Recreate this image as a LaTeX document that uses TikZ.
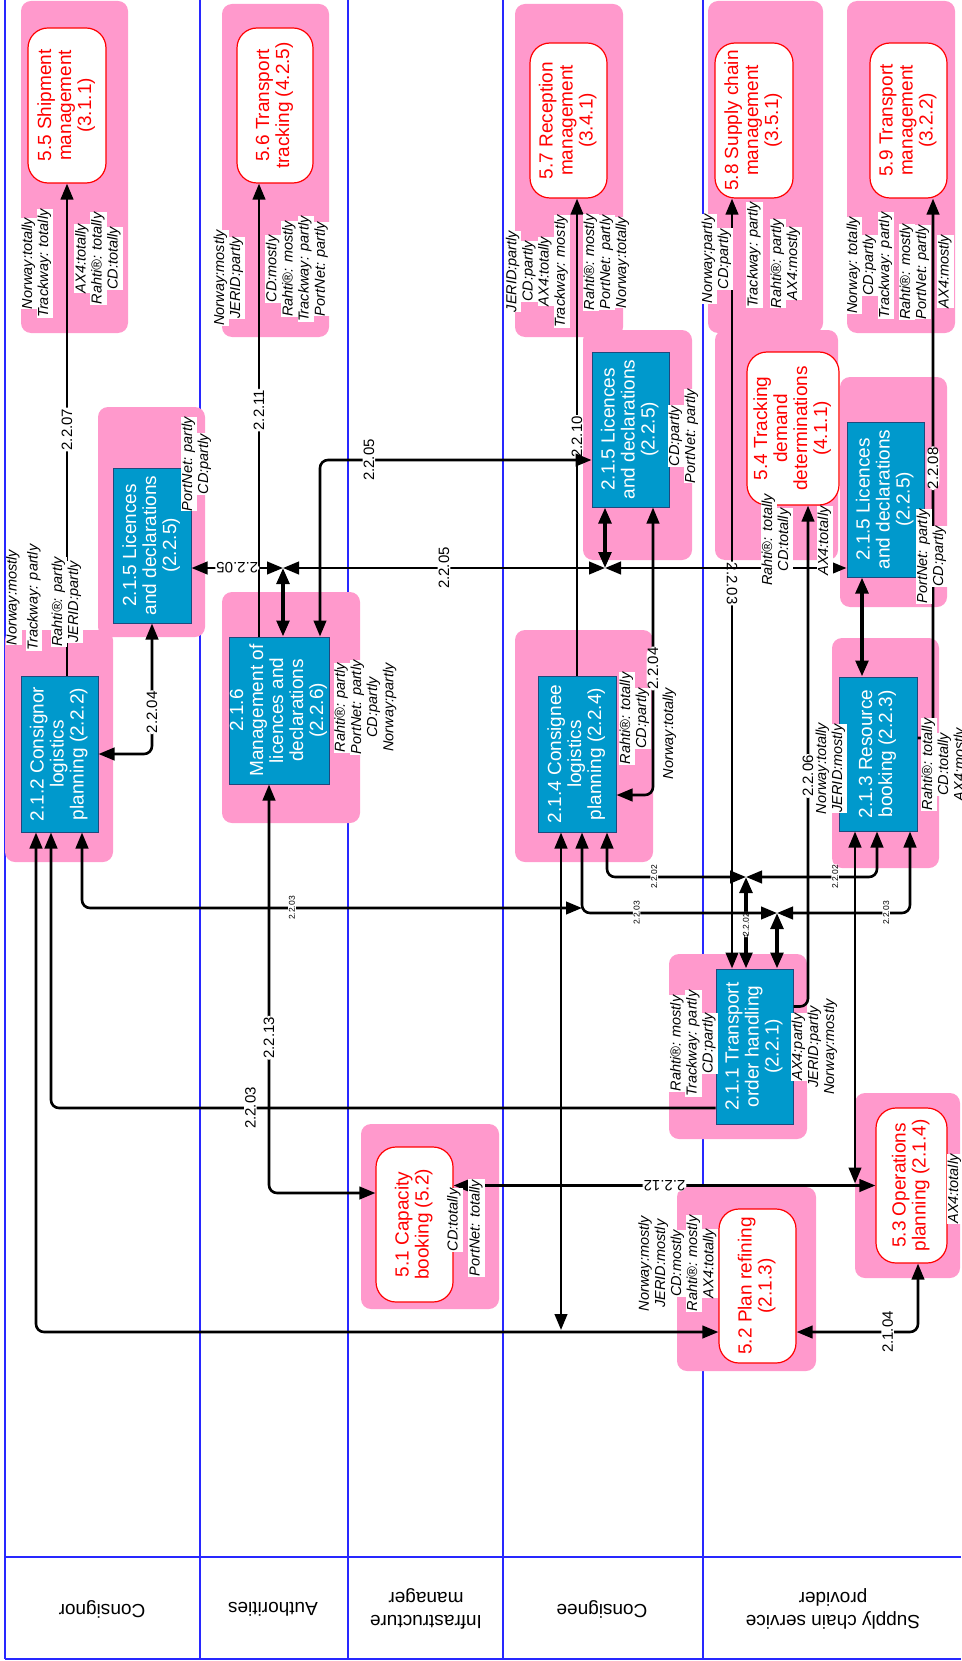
\documentclass[tikz,border=0pt]{standalone}
\usepackage{fontspec}
\setmainfont{Liberation Sans}
\usepackage{graphicx}
\usetikzlibrary{arrows.meta,calc}
\definecolor{groupbg}{RGB}{255,153,204}
\definecolor{procfill}{RGB}{0,153,204}
\definecolor{procline}{RGB}{31,73,125}
\definecolor{laneline}{RGB}{40,40,255}
\newcommand{\procfont}{\fontsize{19}{20}\selectfont}
\newcommand{\annfont}{\fontsize{14.5}{15.5}\selectfont\itshape}
\newcommand{\lblfont}{\fontsize{15}{15}\selectfont}
\newcommand{\minilblfont}{\fontsize{8.5}{9}\selectfont}
\newcommand{\lanefont}{\fontsize{19}{23}\selectfont}
\newcommand{\vtext}[1]{\rotatebox{90}{\begin{tabular}{@{}c@{}}#1\end{tabular}}}
\newcommand{\wbox}[1]{\colorbox{white}{\strut #1}}
\setlength{\fboxsep}{0.3pt}

\begin{document}
\begin{tikzpicture}[x=1pt, y=-1pt,
    >={Triangle[length=16pt,width=12.5pt]},
    lane/.style={draw=laneline, line width=1.3pt},
    group/.style={fill=groupbg, rounded corners=10pt},
    proc/.style={rectangle, draw=procline, fill=procfill, line width=1pt, text=white, font=\procfont, inner sep=0pt},
    sys/.style={rectangle, draw=red, fill=white, rounded corners=20pt, line width=1.2pt, text=red, font=\procfont, inner sep=0pt},
    note/.style={inner sep=0pt, font=\annfont},
    lanelabel/.style={align=center, font=\lanefont, rotate=180},
    conn/.style={draw, line width=2.6pt, rounded corners=8pt, ->},
    dconn/.style={draw, line width=2.6pt, rounded corners=8pt, <->},
    dconnthick/.style={dconn, line width=3.8pt},
    bconn/.style={draw, line width=2.6pt, rounded corners=8pt, <-},
    vlbl/.style={fill=white, inner sep=1pt, font=\lblfont, rotate=90},
    ulbl/.style={fill=white, inner sep=1pt, font=\lblfont, rotate=180},
    dlbl/.style={fill=white, inner sep=1pt, font=\lblfont, rotate=-90},
    tlbl/.style={fill=white, inner sep=0.8pt, font=\minilblfont, rotate=90}
]
    \useasboundingbox (0,0) rectangle (961,1661);

    % Swimlanes
    \foreach \x in {5,200,348,503,703}
        \draw[lane] (\x,0) -- (\x,1659);
    \draw[lane] (5,1557) -- (961,1557);
    \draw[lane, line width=2.5pt] (5,1659) -- (961,1659);

    % Pink groups
    \fill[group] (21,1) rectangle (128,333);
    \fill[group] (222,4) rectangle (329,337);
    \fill[group] (515,4) rectangle (623,337);
    \fill[group] (708,1) rectangle (823,333);
    \fill[group] (847,1) rectangle (955,333);
    \fill[group] (98,407) rectangle (205,637);
    \fill[group] (5,630) rectangle (113,862);
    \fill[group] (222,592) rectangle (360,823);
    \fill[group] (583,330) rectangle (692,560);
    \fill[group] (515,630) rectangle (653,862);
    \fill[group] (715,330) rectangle (838,560);
    \fill[group] (840,377) rectangle (947,607);
    \fill[group] (832,638) rectangle (939,868);
    \fill[group] (669,954) rectangle (807,1139);
    \fill[group] (855,1093) rectangle (960,1278);
    \fill[group] (677,1187) rectangle (816,1371);
    \fill[group] (361,1124) rectangle (499,1309);

    % Processes
    \node[proc, minimum width=78pt, minimum height=155pt] (b215a) at (152,545.5) {\vtext{2.1.5 Licences\\and declarations\\(2.2.5)}};
    \node[proc, minimum width=77pt, minimum height=156pt] (b212) at (59.5,754) {\vtext{2.1.2 Consignor\\logistics\\planning (2.2.2)}};
    \node[proc, minimum width=100pt, minimum height=147pt] (b216) at (279,710.5) {\vtext{2.1.6\\Management of\\licences and\\declarations\\(2.2.6)}};
    \node[proc, minimum width=77pt, minimum height=155pt] (b215b) at (630.5,429.5) {\vtext{2.1.5 Licences\\and declarations\\(2.2.5)}};
    \node[proc, minimum width=78pt, minimum height=156pt] (b214) at (577,754) {\vtext{2.1.4 Consignee\\logistics\\planning (2.2.4)}};
    \node[proc, minimum width=77pt, minimum height=155pt] (b215c) at (885.5,499.5) {\vtext{2.1.5 Licences\\and declarations\\(2.2.5)}};
    \node[proc, minimum width=78pt, minimum height=154pt] (b213) at (878,754) {\vtext{2.1.3 Resource\\booking (2.2.3)}};
    \node[proc, minimum width=77pt, minimum height=155pt] (b211) at (754.5,1046.5) {\vtext{2.1.1 Transport\\order handling\\(2.2.1)}};

    % Systems
    \node[sys, minimum width=78pt, minimum height=155pt] (r55) at (67,105.5) {\vtext{5.5 Shipment\\management\\(3.1.1)}};
    \node[sys, minimum width=76pt, minimum height=155pt] (r56) at (275,105.5) {\vtext{5.6 Transport\\tracking (4.2.5)}};
    \node[sys, minimum width=77pt, minimum height=155pt] (r57) at (568.5,120.5) {\vtext{5.7 Reception\\management\\(3.4.1)}};
    \node[sys, minimum width=78pt, minimum height=155pt] (r58) at (754,120.5) {\vtext{5.8 Supply chain\\management\\(3.5.1)}};
    \node[sys, minimum width=77pt, minimum height=155pt] (r59) at (908.5,120.5) {\vtext{5.9 Transport\\management\\(3.2.2)}};
    \node[sys, minimum width=92pt, minimum height=153pt] (r54) at (793,428.5) {\vtext{5.4 Tracking\\demand\\determinations\\(4.1.1)}};
    \node[sys, minimum width=71pt, minimum height=155pt] (r53) at (911.5,1185.5) {\vtext{5.3 Operations\\planning (2.1.4)}};
    \node[sys, minimum width=77pt, minimum height=154pt] (r52) at (757.5,1286) {\vtext{5.2 Plan refining\\(2.1.3)}};
    \node[sys, minimum width=77pt, minimum height=155pt] (r51) at (414.5,1224.5) {\vtext{5.1 Capacity\\booking (5.2)}};

    % Junctions
    \coordinate (j205a) at (283,568);
    \coordinate (j205b) at (605,568);
    \coordinate (j202) at (746,877);
    \coordinate (j203) at (777,913);

    % Flows to the systems
    \draw[conn] (b212.north -| r55.south) -- node[vlbl]{2.2.07} (r55.south);
    \draw[conn] ($(b216.north)+(-20,0)$) -- node[vlbl]{2.2.11} ($(r56.south)+(-16,0)$);
    \draw[conn] (b214.north) -- node[vlbl]{2.2.10} (b214.north |- r57.south);
    \draw[dconn] ($(b211.north)+(-22.5,0)$) -- node[dlbl]{2.2.03} ($(r58.south)+(-22,0)$);
    \draw[conn] ($(b213.east)+(0,-16)$) -| node[vlbl, pos=0.75]{2.2.08} ($(r59.south)+(24.5,0)$);
    \draw[conn] ($(b211.east)+(0,-40)$) -| node[vlbl, pos=0.73]{2.2.06} ($(r54.south)+(15,0)$);

    % Licences and declarations
    \draw[dconn] (b212.east) -| node[vlbl, pos=0.66]{2.2.04} (b215a.south);
    \draw[dconn] (j205a) -- node[ulbl]{2.2.05} (j205a -| b215a.east);
    \draw[dconn] (j205a) -- node[vlbl]{2.2.05} (j205b);
    \draw[dconn] (j205b) -- (j205b -| b215c.west);
    \draw[dconnthick] (j205a) -- (j205a |- b216.north);
    \draw[dconnthick] (j205b) -- (j205b |- b215b.south);
    \draw[dconn] ($(b216.north)+(41,0)$) |- node[vlbl, pos=0.59]{2.2.05} ($(b215b.west)+(0,30.5)$);
    \draw[dconn] ($(b215b.south)+(22.5,0)$) |- node[vlbl, pos=0.28]{2.2.04} ($(b214.east)+(0,41)$);
    \draw[dconnthick] ($(b215c.south)+(-23.5,0)$) -- ($(b213.north)+(-16,0)$);
    \draw[dconn] ($(b216.south)+(-10,0)$) |- node[vlbl, pos=0.31]{2.2.13} ($(r51.west)+(0,-31.5)$);

    % Transport order handling
    \draw[dconn] ($(b214.south)+(30,0)$) |- node[tlbl, pos=0.67]{2.2.02} (j202);
    \draw[dconn] (j202) -| node[tlbl, pos=0.34]{2.2.02} ($(b213.south)+(-1,0)$);
    \draw[dconnthick] (j202) -- node[tlbl, pos=0.52]{2.2.02} (j202 |- b211.north);
    \draw[dconn] ($(b214.south)+(5,0)$) |- node[tlbl, pos=0.64]{2.2.03} (j203);
    \draw[dconn] (j203) -| node[tlbl, pos=0.41]{2.2.03} ($(b213.south)+(32,0)$);
    \draw[dconnthick] (j203) -- (j203 |- b211.north);
    \draw[dconn] ($(b212.south)+(22.5,0)$) |- node[tlbl, pos=0.71]{2.2.03} ($(b214.south |- j203)+(5,-5)$);
    \draw[bconn] ($(b212.south)+(-8.5,0)$) |- node[vlbl, pos=0.65]{2.2.03} ($(b211.west)+(0,61.5)$);

    % Planning
    \draw[dconn] ($(b212.south)+(-23.5,0)$) |- ($(r52.west)+(0,46)$);
    \draw[dconn] ($(b214.south)+(-16,0)$) -- ($(b214.south |- r52.west)+(-16,44)$);
    \draw[dconn] (r53.west -| r51.east) -- node[ulbl]{2.2.12} (r53.west);
    \draw[dconn] ($(b213.south)+(-23,0)$) -- ($(b213.south |- r53.west)+(-23,-2)$);
    \draw[dconn] ($(r52.east)+(0,46)$) -| node[vlbl, pos=0.375]{2.1.04} ($(r53.south)+(6.5,0)$);

    % Coverage notes
    \node[note] (n55l) at (37,263.5) {\vtext{\wbox{Norway:totally}\\\wbox{Trackway: totally}}};
    \node[note] (n55r) at (98.5,258.5) {\vtext{\wbox{AX4:totally}\\\wbox{Rahti®: totally}\\\wbox{CD:totally}}};
    \node[note] (n56l) at (229,278) {\vtext{\wbox{Norway:mostly}\\\wbox{JERID:partly}}};
    \node[note] (n56r) at (297.5,269) {\vtext{\wbox{CD:mostly}\\\wbox{Rahti®: mostly}\\\wbox{Trackway: partly}\\\wbox{PortNet: partly}}};
    \node[note] (n57l) at (537.5,271.5) {\vtext{\wbox{JERID:partly}\\\wbox{CD:partly}\\\wbox{AX4:totally}\\\wbox{Trackway: mostly}}};
    \node[note] (n57r) at (607,262.5) {\vtext{\wbox{Rahti®: mostly}\\\wbox{PortNet: partly}\\\wbox{Norway:totally}}};
    \node[note] (n58l) at (717,259) {\vtext{\wbox{Norway:partly}\\\wbox{CD:partly}}};
    \node[note] (n58m) at (754.5,255) {\vtext{\wbox{Trackway: partly}}};
    \node[note] (n58r) at (786,263.5) {\vtext{\wbox{Rahti®: partly}\\\wbox{AX4:mostly}}};
    \node[note] (n59l) at (870,265.5) {\vtext{\wbox{Norway: totally}\\\wbox{CD:partly}\\\wbox{Trackway: partly}}};
    \node[note] (n59m) at (915,272) {\vtext{\wbox{Rahti®: mostly}\\\wbox{PortNet: partly}}};
    \node[note] (n59r) at (945.5,271.5) {\vtext{\wbox{AX4:mostly}}};
    \node[note] (n215a) at (197,464) {\vtext{\wbox{PortNet: partly}\\\wbox{CD:partly}}};
    \node[note] (n212l) at (24,597.5) {\vtext{\wbox{Norway:mostly}\\[5pt]\wbox{Trackway: partly}}};
    \node[note] (n212r) at (67,602) {\vtext{\wbox{Rahti®: partly}\\\wbox{JERID:partly}}};
    \node[note] (n216) at (366,707.5) {\vtext{\wbox{Rahti®: partly}\\\wbox{PortNet: partly}\\\wbox{CD:partly}\\\wbox{Norway:partly}}};
    \node[note] (n215b) at (684,436) {\vtext{\wbox{CD:partly}\\\wbox{PortNet: partly}}};
    \node[note] (n214) at (635,718.5) {\vtext{\wbox{Rahti®: totally}\\\wbox{CD:partly}}};
    \node[note] (n214b) at (670,733.5) {\vtext{\wbox{Norway:totally}}};
    \node[note] (n54) at (777,540) {\vtext{\wbox{Rahti®: totally}\\\wbox{CD:totally}}};
    \node[note] (n54b) at (825,541) {\vtext{\wbox{AX4:totally}}};
    \node[note] (n215c) at (932,556.5) {\vtext{\wbox{PortNet: partly}\\\wbox{CD:partly}}};
    \node[note] (n213l) at (831,768.5) {\vtext{\wbox{Norway:totally}\\\wbox{JERID:mostly}}};
    \node[note] (n213r) at (945,764.5) {\vtext{\wbox{Rahti®: totally}\\\wbox{CD:totally}\\\wbox{AX4:mostly}}};
    \node[note] (n211l) at (693.5,1043.5) {\vtext{\wbox{Rahti®: mostly}\\\wbox{Trackway: partly}\\\wbox{CD:partly}}};
    \node[note] (n211r) at (815,1047) {\vtext{\wbox{AX4:partly}\\\wbox{JERID:partly}\\\wbox{Norway:mostly}}};
    \node[note] (n53) at (955,1189) {\vtext{\wbox{AX4:totally}}};
    \node[note] (n52) at (678,1263.5) {\vtext{\wbox{Norway:mostly}\\\wbox{JERID:mostly}\\\wbox{CD:mostly}\\\wbox{Rahti®: mostly}\\\wbox{AX4:totally}}};
    \node[note] (n51a) at (454.5,1220) {\vtext{\wbox{CD:totally}}};
    \node[note] (n51b) at (476.5,1228) {\vtext{\wbox{PortNet: totally}}};

    % Lane headers
    \node[lanelabel] (hconsignor) at (102,1609) {Consignor};
    \node[lanelabel] (hauthorities) at (273,1609) {Authorities};
    \node[lanelabel] (hinfra) at (426,1609) {Infrastructure\\manager};
    \node[lanelabel] (hconsignee) at (602,1609) {Consignee};
    \node[lanelabel] (hprovider) at (833,1609) {Supply chain service\\provider};
\end{tikzpicture}
\end{document}
